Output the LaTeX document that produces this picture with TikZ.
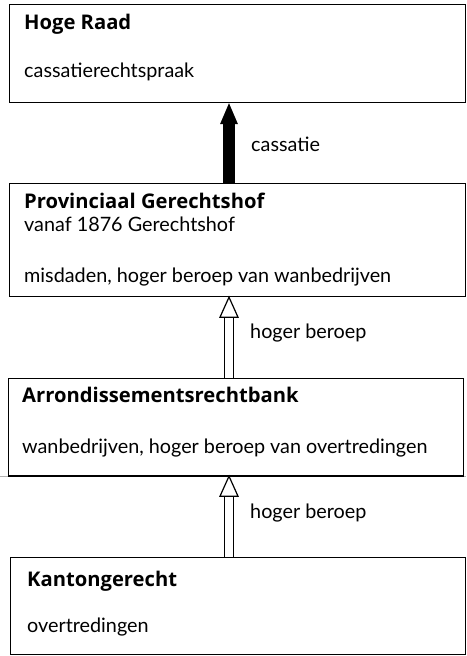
\documentclass[tikz,border=0pt]{standalone}
\usepackage{fontspec}
\setmainfont{Lato}
\newfontfamily\ttlfont{Open Sans}
\usetikzlibrary{calc}
\begin{document}
\begin{tikzpicture}[x=1pt,y=1pt,
  court/.style={draw=black, line width=1.2pt, anchor=north west, inner sep=0pt, minimum width=#1},
  txt/.style={anchor=base west, inner sep=0pt, font=\fontsize{19.8}{22}\selectfont},
  ttl/.style={anchor=base west, inner sep=0pt, font=\ttlfont\fontsize{20.2}{22}\selectfont\bfseries},
  lbl/.style={anchor=base west, inner sep=0pt, font=\fontsize{19.8}{22}\selectfont},
  openarrow/.style={line width=1.2pt}
]
\useasboundingbox (0,0) rectangle (466,-656);
% boxes
\node[court=456pt, minimum height=98pt] (hr) at (9,-4) {};
\node[court=456pt, minimum height=113pt] (pg) at (9,-183) {};
\node[court=455pt, minimum height=97pt] (ar) at (8,-378) {};
\node[court=455pt, minimum height=97pt] (kg) at (10,-557) {};
% faint line
\draw[gray!60, line width=0.6pt] (0,-476) -- (466,-476);
\draw[draw=black, line width=1.2pt] (ar.south west) -- (ar.south east);
% texts
\node[ttl] (t1) at (24,-29) {Hoge Raad};
\node[txt] (t2) at (24,-77) {cassatierechtspraak};
\node[ttl] (t3) at (24,-208) {Provinciaal Gerechtshof};
\node[txt] (t4) at (24,-231) {vanaf 1876 Gerechtshof};
\node[txt] (t5) at (24,-282) {misdaden, hoger beroep van wanbedrijven};
\node[ttl] (t6) at (22,-402) {Arrondissementsrechtbank};
\node[txt] (t7) at (22,-453) {wanbedrijven, hoger beroep van overtredingen};
\node[ttl] (t8) at (27,-586) {Kantongerecht};
\node[txt] (t9) at (27,-632) {overtredingen};
% axis
\coordinate (ax) at (229,0);
% cassatie arrow (thick black)
\coordinate (c1) at (hr.south -| ax);
\coordinate (c2) at (pg.north -| ax);
\fill[black] (c2) ++(-6,0) rectangle ($(c1)+(6,-20)$);
\fill[black] (c1) -- ($(c1)+(-9,-21)$) -- ($(c1)+(9,-21)$) -- cycle;
\node[lbl] (l1) at (251,-151) {cassatie};
% hoger beroep arrows
\foreach \up/\dn/\lb/\ly in {pg/ar/l2/-338, ar/kg/l3/-518}{
  \coordinate (u) at (\up.south -| ax);
  \coordinate (d) at (\dn.north -| ax);
  \draw[openarrow] ($(d)+(-4.5,0)$) -- ($(u)+(-4.5,-20)$);
  \draw[openarrow] ($(d)+(4.5,0)$) -- ($(u)+(4.5,-20)$);
  \draw[openarrow, fill=white, line join=miter] (u) -- ($(u)+(-9,-20)$) -- ($(u)+(9,-20)$) -- cycle;
  \node[lbl] (\lb) at (250,\ly) {hoger beroep};
}
\end{tikzpicture}
\end{document}
